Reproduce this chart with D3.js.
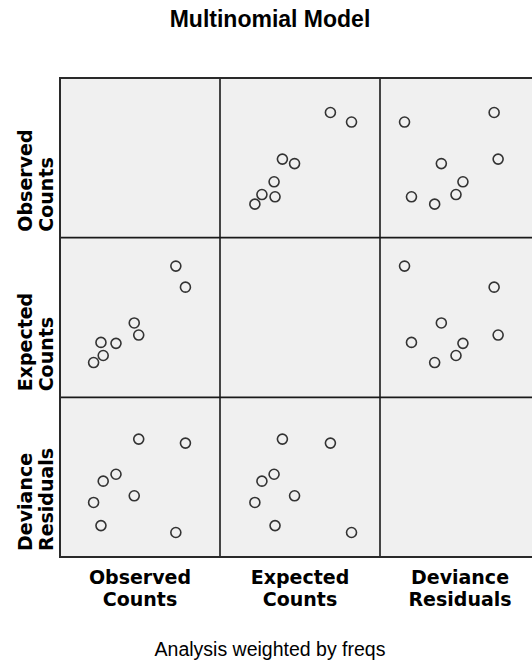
<!DOCTYPE html>
<html>
<head>
<meta charset="utf-8">
<script src="https://cdn.jsdelivr.net/npm/d3@7/dist/d3.min.js"></script>
<style>
  body { margin: 0; background: #fff; }
</style>
</head>
<body>
<svg id="chart" width="532" height="661"></svg>
<script>
// variables of the matrix
var varNames = [["Observed", "Counts"], ["Expected", "Counts"], ["Deviance", "Residuals"]];
var observed = [10.5, 12.8, 13.5, 17.5, 23.2, 24.6, 36.2, 39.2];
var expected = [10.9, 17.2, 13.1, 16.9, 23.3, 19.5, 41.1, 34.5];
var deviance = [-0.95, -1.82, -0.15, 0.11, -0.70, 1.43, -2.08, 1.28];
var domains = [[0, 50], [0, 50], [-3, 3]];

var columns = [observed, expected, deviance];
var n = columns.length;

var svg = d3.select("#chart");
var gridLeft = 60, gridTop = 78, cellW = 160, cellH = 479 / 3;

// one x and one y scale per variable
var xs = domains.map(function (d) { return d3.scaleLinear().domain(d).range([0, cellW]); });
var ys = domains.map(function (d) { return d3.scaleLinear().domain(d).range([cellH, 0]); });

svg.append("text")
  .attr("x", 270).attr("y", 27)
  .attr("text-anchor", "middle")
  .style("font-family", "'Liberation Sans', Arial, sans-serif")
  .style("font-weight", "bold")
  .style("font-size", "23px")
  .text("Multinomial Model");

var grid = svg.append("g").attr("transform", "translate(" + gridLeft + "," + gridTop + ")");

grid.append("rect")
  .attr("width", cellW * n).attr("height", cellH * n)
  .attr("fill", "#f0f0f0");

for (var r = 0; r < n; r++) {
  for (var c = 0; c < n; c++) {
    var cell = grid.append("g")
      .attr("transform", "translate(" + (c * cellW) + "," + (r * cellH) + ")");
    if (r == c) continue;
    var pts = d3.range(observed.length).map(function (i) {
      return [columns[c][i], columns[r][i]];
    });
    cell.selectAll("circle").data(pts).enter().append("circle")
      .attr("cx", (function (xc) { return function (d) { return xc(d[0]); }; })(xs[c]))
      .attr("cy", (function (yc) { return function (d) { return yc(d[1]); }; })(ys[r]))
      .attr("r", 5)
      .attr("fill", "none")
      .attr("stroke", "#333")
      .attr("stroke-width", 1.6);
  }
}

// inner grid lines
for (var k = 1; k < n; k++) {
  grid.append("line")
    .attr("x1", k * cellW).attr("x2", k * cellW)
    .attr("y1", 0).attr("y2", cellH * n)
    .attr("stroke", "#1a1a1a").attr("stroke-width", 1.6);
  grid.append("line")
    .attr("x1", 0).attr("x2", cellW * n)
    .attr("y1", k * cellH).attr("y2", k * cellH)
    .attr("stroke", "#1a1a1a").attr("stroke-width", 1.6);
}
grid.append("rect")
  .attr("width", cellW * n).attr("height", cellH * n)
  .attr("fill", "none")
  .attr("stroke", "#2a2a2a").attr("stroke-width", 2);

// bottom labels
var labelFont = "'DejaVu Sans', Verdana, sans-serif";
varNames.forEach(function (name, i) {
  var t = svg.append("text")
    .attr("text-anchor", "middle")
    .style("font-family", labelFont)
    .style("font-weight", "bold")
    .style("font-size", "19px");
  name.forEach(function (line, j) {
    t.append("tspan")
      .attr("x", gridLeft + i * cellW + cellW / 2)
      .attr("y", 584 + j * 22)
      .text(line);
  });
});

// left labels, rotated, anchored at the bottom of each row
varNames.forEach(function (name, i) {
  var yb = gridTop + (i + 1) * cellH - 6;
  name.forEach(function (line, j) {
    svg.append("text")
      .attr("transform", "translate(" + (32 + j * 21) + "," + yb + ") rotate(-90)")
      .attr("text-anchor", "start")
      .style("font-family", labelFont)
      .style("font-weight", "bold")
      .style("font-size", "19px")
      .text(line);
  });
});

svg.append("text")
  .attr("x", 270).attr("y", 656)
  .attr("text-anchor", "middle")
  .style("font-family", "'Liberation Sans', Arial, sans-serif")
  .style("font-size", "19.5px")
  .text("Analysis weighted by freqs");
</script>
</body>
</html>
